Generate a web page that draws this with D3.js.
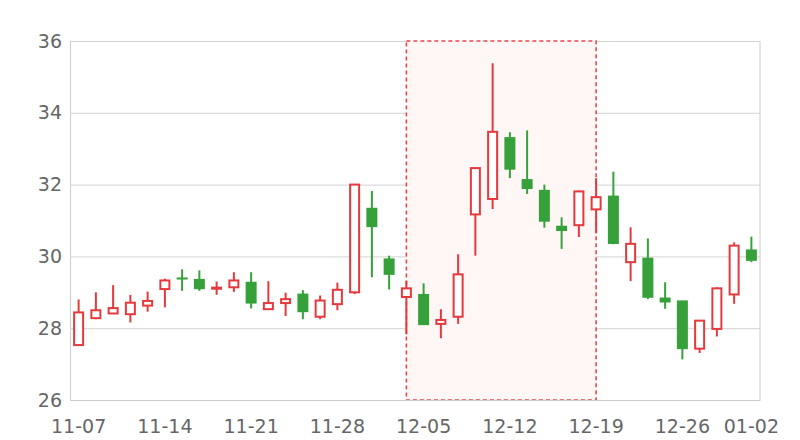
<!DOCTYPE html>
<html>
<head>
<meta charset="utf-8">
<script src="https://cdn.jsdelivr.net/npm/d3@7"></script>
<style>
  html, body { margin: 0; padding: 0; background: #fff; }
  svg { display: block; }
</style>
</head>
<body>
<svg id="chart" width="800" height="440"></svg>
<script>
// ---- data ----
const dates = ["11-07","11-10","11-11","11-12","11-13","11-14","11-17","11-18","11-19","11-20",
               "11-21","11-24","11-25","11-26","11-27","11-28","12-01","12-02","12-03","12-04",
               "12-05","12-08","12-09","12-10","12-11","12-12","12-15","12-16","12-17","12-18",
               "12-19","12-22","12-23","12-24","12-25","12-26","12-29","12-30","12-31","01-02"];
const open  = [27.53,28.28,28.41,28.39,28.63,29.09,29.40,29.36,29.10,29.14,
               29.28,28.53,28.70,28.95,28.32,28.67,29.00,31.34,29.93,28.87,
               28.94,28.12,28.32,31.17,31.60,33.31,32.14,31.84,30.84,30.87,
               31.31,31.68,29.84,29.95,28.84,28.76,27.43,27.98,28.94,30.18];
const close = [28.44,28.50,28.56,28.71,28.76,29.33,29.37,29.10,29.13,29.33,
               28.70,28.70,28.81,28.46,28.77,29.07,32.00,30.83,29.50,29.11,
               28.10,28.23,29.50,32.46,33.47,32.43,31.89,30.98,30.72,31.81,
               31.65,30.36,30.35,28.86,28.73,27.43,28.21,29.11,30.30,29.89];
const high  = [28.80,29.00,29.20,28.93,29.02,29.38,29.64,29.61,29.30,29.56,
               29.56,29.31,28.99,29.06,28.91,29.27,32.00,31.82,30.02,29.32,
               29.25,28.53,30.06,32.46,35.38,33.46,33.51,32.00,31.09,31.83,
               32.18,32.36,30.81,30.50,29.28,28.76,28.21,29.14,30.39,30.55];
const low   = [27.53,28.25,28.40,28.16,28.46,28.58,29.04,29.04,28.93,29.01,
               28.55,28.52,28.34,28.25,28.25,28.50,28.95,29.42,29.08,27.83,
               28.10,27.72,28.12,30.02,31.32,32.18,31.74,30.80,30.21,30.54,
               30.65,30.34,29.31,28.81,28.54,27.13,27.31,27.77,28.68,29.84];
const yTicks = [26, 28, 30, 32, 34, 36];
const xLabelIdx = [0, 5, 10, 15, 20, 25, 30, 35, 39];
const highlightRange = ["12-04", "12-19"];

// ---- layout ----
const svg = d3.select("#chart");
const L = 70, R = 760, T = 41, B = 400;
const up = "#e5393d", down = "#36a13a";

const x = d3.scaleBand().domain(dates).range([L, R]).padding(0);
const cx = d => x(d) + x.bandwidth() / 2;
const y = d3.scaleLinear().domain([26, 36]).range([B, T]);

// highlight region
svg.append("rect")
  .attr("x", cx(highlightRange[0])).attr("y", y(36))
  .attr("width", cx(highlightRange[1]) - cx(highlightRange[0]))
  .attr("height", y(26) - y(36))
  .attr("fill", "#fff6f6")
  .attr("stroke", "#e8474b").attr("stroke-width", 1.6)
  .attr("stroke-dasharray", "4,3");

// grid lines
const yAxis = d3.axisLeft(y).tickValues(yTicks).tickSize(-(R - L)).tickPadding(8).tickFormat(d3.format("d"));
const gy = svg.append("g").attr("transform", `translate(${L},0)`).call(yAxis);
gy.select(".domain").attr("stroke", "#ccc");
gy.selectAll(".tick line").attr("stroke", "#d3d3d3").attr("stroke-width", 1);
gy.selectAll(".tick text").attr("fill", "#666").attr("font-size", 19)
  .attr("font-family", "DejaVu Sans, sans-serif");
gy.lower();

// right border
svg.append("line").attr("x1", R).attr("x2", R).attr("y1", T).attr("y2", B)
  .attr("stroke", "#ccc");

// x axis
const xAxis = d3.axisBottom(x).tickValues(xLabelIdx.map(i => dates[i])).tickSize(0).tickPadding(20);
const gx = svg.append("g").attr("transform", `translate(0,${B})`).call(xAxis);
gx.select(".domain").attr("stroke", "#ccc");
gx.selectAll(".tick text").attr("fill", "#666").attr("font-size", 19)
  .attr("font-family", "DejaVu Sans, sans-serif");

// candles
const data = dates.map((d, i) => ({ d, o: open[i], c: close[i], h: high[i], l: low[i] }));
const g = svg.append("g");
const bw = 10;
data.forEach(p => {
  const rising = p.c >= p.o;
  const col = rising ? up : down;
  const top = Math.max(p.o, p.c), bot = Math.min(p.o, p.c);
  if (p.h > top) g.append("line").attr("x1", cx(p.d)).attr("x2", cx(p.d))
    .attr("y1", y(p.h)).attr("y2", y(top)).attr("stroke", col).attr("stroke-width", 2);
  if (p.l < bot) g.append("line").attr("x1", cx(p.d)).attr("x2", cx(p.d))
    .attr("y1", y(bot)).attr("y2", y(p.l)).attr("stroke", col).attr("stroke-width", 2);
  const hgt = Math.max(y(bot) - y(top), 1);
  if (rising) {
    g.append("rect").attr("x", cx(p.d) - (bw - 1) / 2).attr("y", y(top))
      .attr("width", bw - 1).attr("height", hgt)
      .attr("fill", "#fff").attr("stroke", col).attr("stroke-width", 2);
  } else {
    g.append("rect").attr("x", cx(p.d) - (bw + 1) / 2).attr("y", y(top) - 0.5)
      .attr("width", bw + 1).attr("height", hgt + 1)
      .attr("fill", col);
  }
});
</script>
</body>
</html>
